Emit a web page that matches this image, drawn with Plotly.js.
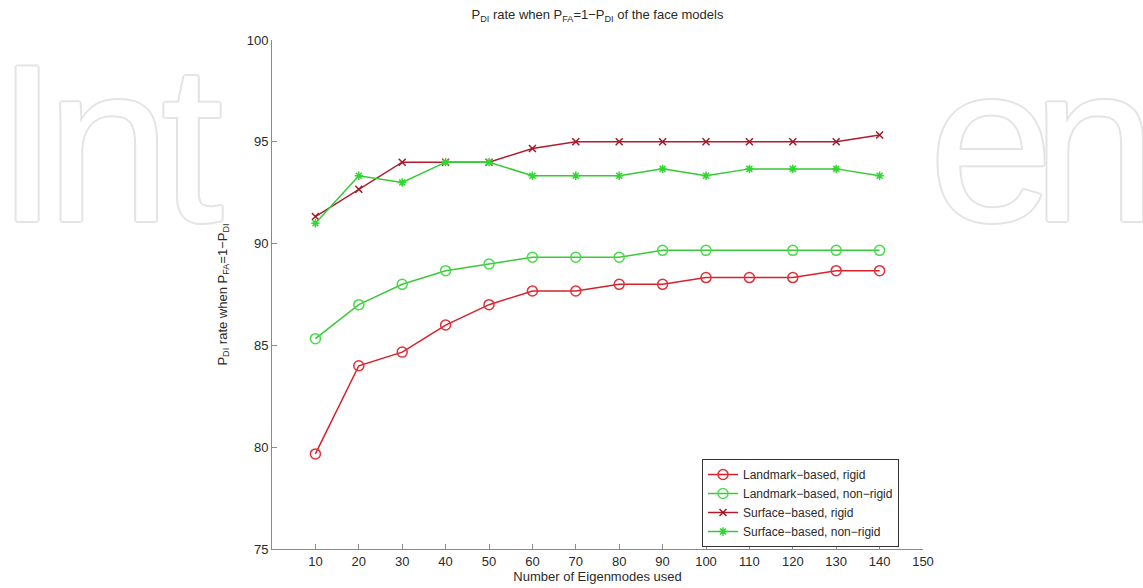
<!DOCTYPE html>
<html>
<head>
<meta charset="utf-8">
<script src="https://cdn.plot.ly/plotly-3.0.1.min.js"></script>
<style>
  html, body { margin: 0; padding: 0; background: #fff; }
  #chart { width: 1143px; height: 588px; }
</style>
</head>
<body>
<div id="chart"></div>
<script>
// ---- data ----
const eigenmodes = [10, 20, 30, 40, 50, 60, 70, 80, 90, 100, 110, 120, 130, 140];
const landmarkRigid    = [79.67, 84.00, 84.67, 86.00, 87.00, 87.67, 87.67, 88.00, 88.00, 88.33, 88.33, 88.33, 88.67, 88.67];
const landmarkNonRigid = [85.33, 87.00, 88.00, 88.67, 89.00, 89.33, 89.33, 89.33, 89.67, 89.67, 89.67, 89.67, 89.67, 89.67];
const surfaceRigid     = [91.33, 92.67, 94.00, 94.00, 94.00, 94.67, 95.00, 95.00, 95.00, 95.00, 95.00, 95.00, 95.00, 95.33];
const surfaceNonRigid  = [91.00, 93.33, 93.00, 94.00, 94.00, 93.33, 93.33, 93.33, 93.67, 93.33, 93.67, 93.67, 93.67, 93.33];
const seriesNames = ['Landmark\u2212based, rigid', 'Landmark\u2212based, non\u2212rigid', 'Surface\u2212based, rigid', 'Surface\u2212based, non\u2212rigid'];
const xTicks = [10, 20, 30, 40, 50, 60, 70, 80, 90, 100, 110, 120, 130, 140, 150];
const yTicks = [75, 80, 85, 90, 95, 100];
// watermark letters ("Int ... en") visible around the chart
const watermarkLetters = ['I', 'n', 't', 'e', 'n'];

const FONT = 'Liberation Sans, Arial, sans-serif';
const TEXT = '#2a2a2a';
const AXIS = '#8a8a8a';

const traces = [
  { x: eigenmodes, y: landmarkRigid, name: seriesNames[0], mode: 'lines+markers',
    line: { color: '#d7202c', width: 1.5 },
    marker: { symbol: 'circle-open', size: 10, color: '#e0303a', line: { width: 1.5 } } },
  { x: eigenmodes, y: landmarkNonRigid, name: seriesNames[1], mode: 'lines+markers',
    line: { color: '#3cc83c', width: 1.5 },
    marker: { symbol: 'circle-open', size: 10, color: '#45dd45', line: { width: 1.5 },
              opacity: eigenmodes.map(v => v === 110 ? 0 : 1) } },
  { x: eigenmodes, y: surfaceRigid, name: seriesNames[2], mode: 'lines+markers',
    line: { color: '#b4192c', width: 1.5 },
    marker: { symbol: 'x-thin-open', size: 7, color: '#a01828', line: { width: 1.5, color: '#a01828' } } },
  { x: eigenmodes, y: surfaceNonRigid, name: seriesNames[3], mode: 'lines+markers',
    line: { color: '#35c835', width: 1.5 },
    marker: { symbol: 'asterisk-open', size: 7, color: '#2ed82e', line: { width: 1.5, color: '#2ed82e' } } }
];

const outline = '#e4e4e4';
const shadow = [
  `2px 0 0 ${outline}`, `-2px 0 0 ${outline}`, `0 2px 0 ${outline}`, `0 -2px 0 ${outline}`,
  `1.4px 1.4px 0 ${outline}`, `-1.4px -1.4px 0 ${outline}`, `1.4px -1.4px 0 ${outline}`, `-1.4px 1.4px 0 ${outline}`
].join(', ');

// plot area in pixels: x 272..923, y 40..549
const PL = 272, PW = 651, PT = 40, PH = 509;
const letterCentersPx = [27, 108, 192, 991, 1094];
const wmAnnotations = watermarkLetters.map((ch, i) => ({
  text: ch, xref: 'paper', yref: 'paper',
  x: (letterCentersPx[i] - PL) / PW, y: (PT + PH - 270) / PH,
  xanchor: 'center', yanchor: 'bottom', showarrow: false,
  font: { family: FONT, size: 224, color: '#ffffff', shadow: shadow }
}));

const layout = {
  width: 1143, height: 588,
  margin: { l: PL, r: 1143 - PL - PW, t: PT, b: 588 - PT - PH },
  paper_bgcolor: '#ffffff', plot_bgcolor: 'rgba(0,0,0,0)',
  font: { family: FONT, size: 13, color: TEXT },
  showlegend: true,
  title: {
    text: 'P<sub>DI</sub> rate when P<sub>FA</sub>=1\u2212P<sub>DI</sub> of the face models',
    font: { family: FONT, size: 13, color: TEXT },
    x: 0.5, xref: 'paper', xanchor: 'center', y: 0.975, yanchor: 'middle'
  },
  xaxis: {
    range: [0, 150], tickvals: xTicks, ticktext: xTicks.map(String),
    showline: true, linecolor: AXIS, linewidth: 1, mirror: false,
    ticks: 'inside', ticklen: 5, tickcolor: AXIS, showgrid: false, zeroline: false,
    tickfont: { family: FONT, size: 13, color: TEXT },
    title: { text: 'Number of Eigenmodes used', font: { family: FONT, size: 13, color: TEXT }, standoff: 4 }
  },
  yaxis: {
    range: [75, 100], tickvals: yTicks, ticktext: yTicks.map(String),
    showline: true, linecolor: AXIS, linewidth: 1, mirror: false,
    ticks: 'inside', ticklen: 5, tickcolor: AXIS, showgrid: false, zeroline: false,
    tickfont: { family: FONT, size: 13, color: TEXT },
    title: { text: 'P<sub>DI</sub> rate when P<sub>FA</sub>=1\u2212P<sub>DI</sub>', font: { family: FONT, size: 13, color: TEXT }, standoff: 16 }
  },
  legend: {
    x: (702 - PL) / PW, y: (PT + PH - 459) / PH, xanchor: 'left', yanchor: 'top',
    bgcolor: '#ffffff', bordercolor: '#333333', borderwidth: 1,
    font: { family: FONT, size: 12, color: TEXT },
    tracegroupgap: 0, itemwidth: 30
  },
  annotations: wmAnnotations
};

Plotly.newPlot('chart', traces, layout, { displayModeBar: false, staticPlot: true });
</script>
</body>
</html>
